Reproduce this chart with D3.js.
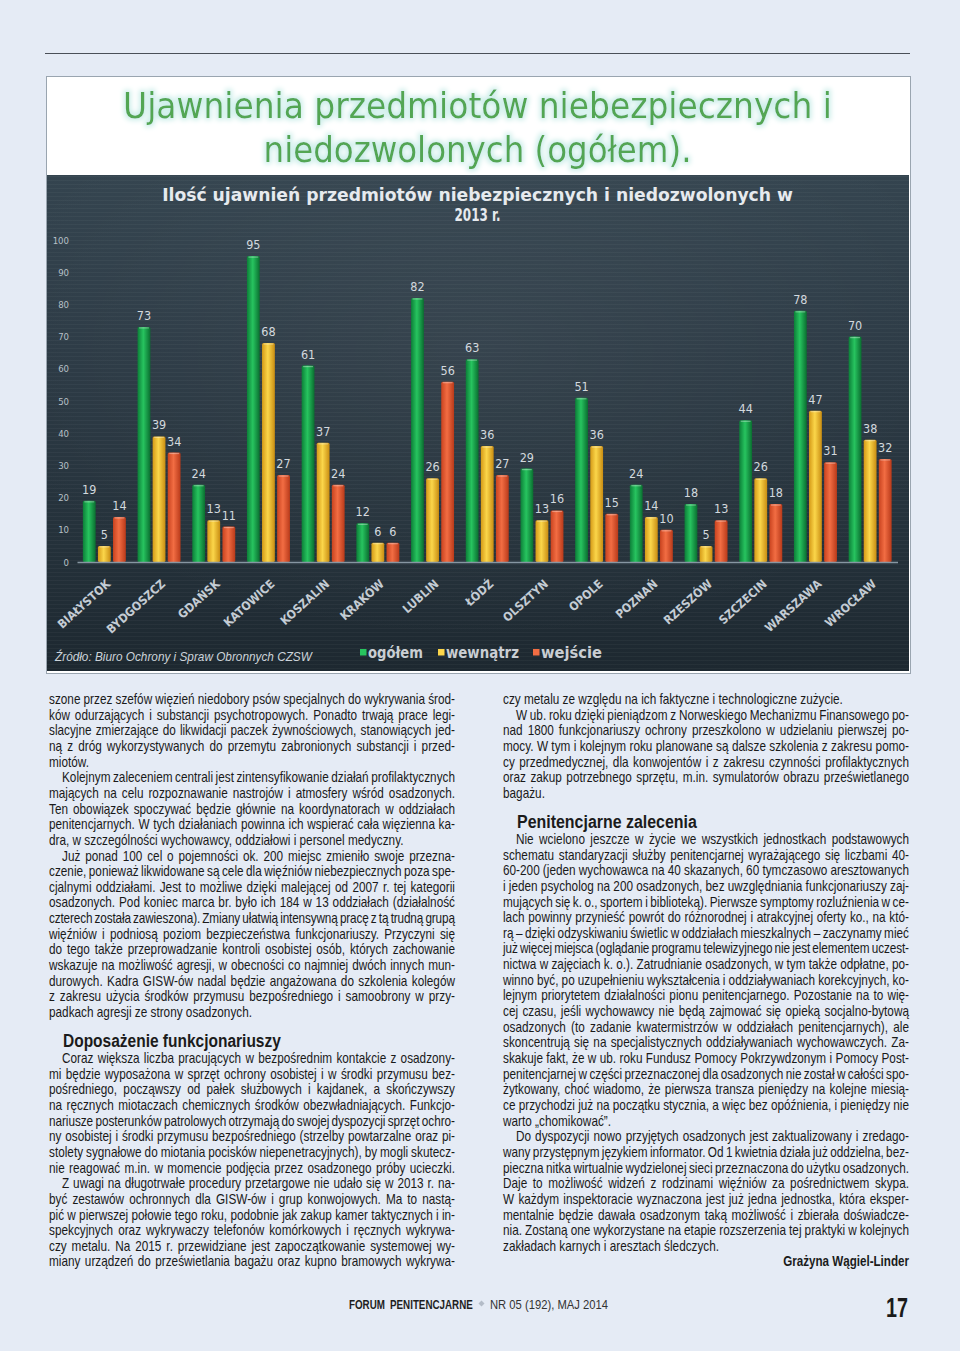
<!DOCTYPE html>
<html><head><meta charset="utf-8">
<script src="https://cdn.jsdelivr.net/npm/d3@7"></script>
<style>
html,body{margin:0;padding:0;background:#e5ebf5;}
svg{display:block;}
</style></head><body>
<svg id="page" width="960" height="1351"></svg>
<script>
// ---------- chart data ----------
const cities = ["BIAŁYSTOK","BYDGOSZCZ","GDAŃSK","KATOWICE","KOSZALIN","KRAKÓW","LUBLIN","ŁÓDŹ","OLSZTYN","OPOLE","POZNAŃ","RZESZÓW","SZCZECIN","WARSZAWA","WROCŁAW"];
const ogolem   = [19,73,24,95,61,12,82,63,29,51,24,18,44,78,70];
const wewnatrz = [5,39,13,68,37,6,26,36,13,36,14,5,26,47,38];
const wejscie  = [14,34,11,27,24,6,56,27,16,15,10,13,18,31,32];
const seriesNames = ["ogółem","wewnątrz","wejście"];
const yTicks = [0,10,20,30,40,50,60,70,80,90,100];
const chartTitle = ["Ujawnienia przedmiotów niebezpiecznych i","niedozwolonych (ogółem)."];
const chartSubtitle = ["Ilość ujawnień przedmiotów niebezpiecznych i niedozwolonych w","2013 r."];
const sourceNote = "Źródło: Biuro Ochrony i Spraw Obronnych CZSW";

// ---------- article text (">" = indent, "~" = ragged last line, "#" = heading) ----------
const leftColumn = [
"szone przez szefów więzień niedobory psów specjalnych do wykrywania środ-",
"ków odurzających i substancji psychotropowych. Ponadto trwają prace legi-",
"slacyjne zmierzające do likwidacji paczek żywnościowych, stanowiących jed-",
"ną z dróg wykorzystywanych do przemytu zabronionych substancji i przed-",
"miotów.~",
">Kolejnym zaleceniem centrali jest zintensyfikowanie działań profilaktycznych",
"mających na celu rozpoznawanie nastrojów i atmosfery wśród osadzonych.",
"Ten obowiązek spoczywać będzie głównie na koordynatorach w oddziałach",
"penitencjarnych. W tych działaniach powinna ich wspierać cała więzienna ka-",
"dra, w szczególności wychowawcy, oddziałowi i personel medyczny.~",
">Już ponad 100 cel o pojemności ok. 200 miejsc zmieniło swoje przezna-",
"czenie, ponieważ likwidowane są cele dla więźniów niebezpiecznych poza spe-",
"cjalnymi oddziałami. Jest to możliwe dzięki malejącej od 2007 r. tej kategorii",
"osadzonych. Pod koniec marca br. było ich 184 w 13 oddziałach (działalność",
"czterech została zawieszona). Zmiany ułatwią intensywną pracę z tą trudną grupą",
"więźniów i podniosą poziom bezpieczeństwa funkcjonariuszy. Przyczyni się",
"do tego także przeprowadzanie kontroli osobistej osób, których zachowanie",
"wskazuje na możliwość agresji, w obecności co najmniej dwóch innych mun-",
"durowych. Kadra GISW-ów nadal będzie angażowana do szkolenia kolegów",
"z zakresu użycia środków przymusu bezpośredniego i samoobrony w przy-",
"padkach agresji ze strony osadzonych.~",
"#Doposażenie funkcjonariuszy",
">Coraz większa liczba pracujących w bezpośrednim kontakcie z osadzony-",
"mi będzie wyposażona w sprzęt ochrony osobistej i w środki przymusu bez-",
"pośredniego, począwszy od pałek służbowych i kajdanek, a skończywszy",
"na ręcznych miotaczach chemicznych środków obezwładniających. Funkcjo-",
"nariusze posterunków patrolowych otrzymają do swojej dyspozycji sprzęt ochro-",
"ny osobistej i środki przymusu bezpośredniego (strzelby powtarzalne oraz pi-",
"stolety sygnałowe do miotania pocisków niepenetracyjnych), by mogli skutecz-",
"nie reagować m.in. w momencie podjęcia przez osadzonego próby ucieczki.",
">Z uwagi na długotrwałe procedury przetargowe nie udało się w 2013 r. na-",
"być zestawów ochronnych dla GISW-ów i grup konwojowych. Ma to nastą-",
"pić w pierwszej połowie tego roku, podobnie jak zakup kamer taktycznych i in-",
"spekcyjnych oraz wykrywaczy telefonów komórkowych i ręcznych wykrywa-",
"czy metalu. Na 2015 r. przewidziane jest zapoczątkowanie systemowej wy-",
"miany urządzeń do prześwietlania bagażu oraz kupno bramowych wykrywa-"
];
const rightColumn = [
"czy metalu ze względu na ich faktyczne i technologiczne zużycie.~",
">W ub. roku dzięki pieniądzom z Norweskiego Mechanizmu Finansowego po-",
"nad 1800 funkcjonariuszy ochrony przeszkolono w udzielaniu pierwszej po-",
"mocy. W tym i kolejnym roku planowane są dalsze szkolenia z zakresu pomo-",
"cy przedmedycznej, dla konwojentów i z zakresu czynności profilaktycznych",
"oraz zakup potrzebnego sprzętu, m.in. symulatorów obrazu prześwietlanego",
"bagażu.~",
"#Penitencjarne zalecenia",
">Nie wcielono jeszcze w życie we wszystkich jednostkach podstawowych",
"schematu standaryzacji służby penitencjarnej wyrażającego się liczbami 40-",
"60-200 (jeden wychowawca na 40 skazanych, 60 tymczasowo aresztowanych",
"i jeden psycholog na 200 osadzonych, bez uwzględniania funkcjonariuszy zaj-",
"mujących się k. o., sportem i biblioteką). Pierwsze symptomy rozluźnienia w ce-",
"lach powinny przynieść powrót do różnorodnej i atrakcyjnej oferty ko., na któ-",
"rą – dzięki odzyskiwaniu świetlic w oddziałach mieszkalnych – zaczynamy mieć",
"już więcej miejsca (oglądanie programu telewizyjnego nie jest elementem uczest-",
"nictwa w zajęciach k. o.). Zatrudnianie osadzonych, w tym także odpłatne, po-",
"winno być, po uzupełnieniu wykształcenia i oddziaływaniach korekcyjnych, ko-",
"lejnym priorytetem działalności pionu penitencjarnego. Pozostanie na to wię-",
"cej czasu, jeśli wychowawcy nie będą zajmować się opieką socjalno-bytową",
"osadzonych (to zadanie kwatermistrzów w oddziałach penitencjarnych), ale",
"skoncentrują się na specjalistycznych oddziaływaniach wychowawczych. Za-",
"skakuje fakt, że w ub. roku Fundusz Pomocy Pokrzywdzonym i Pomocy Post-",
"penitencjarnej w części przeznaczonej dla osadzonych nie został w całości spo-",
"żytkowany, choć wiadomo, że pierwsza transza pieniędzy na kolejne miesią-",
"ce przychodzi już na początku stycznia, a więc bez opóźnienia, i pieniędzy nie",
"warto „chomikować”.~",
">Do dyspozycji nowo przyjętych osadzonych jest zaktualizowany i zredago-",
"wany przystępnym językiem informator. Od 1 kwietnia działa już oddzielna, bez-",
"pieczna nitka wirtualnie wydzielonej sieci przeznaczona do użytku osadzonych.",
"Daje to możliwość widzeń z rodzinami więźniów za pośrednictwem skypa.",
"W każdym inspektoracie wyznaczona jest już jedna jednostka, która eksper-",
"mentalnie będzie dawała osadzonym taką możliwość i zbierała doświadcze-",
"nia. Zostaną one wykorzystane na etapie rozszerzenia tej praktyki w kolejnych",
"zakładach karnych i aresztach śledczych.~"
];
const signature = "Grażyna Wągiel-Linder";
const footerParts = ["FORUM PENITENCJARNE","NR 05 (192), MAJ 2014","17"];

// ---------- drawing ----------
const svg = d3.select("#page");
const defs = svg.append("defs");
const COND = "'DejaVu Sans Condensed','DejaVu Sans',sans-serif";
const NARROW = "'Liberation Sans Narrow','Arial Narrow','Liberation Sans',sans-serif";

// place a text so that its drawn width equals w (horizontal scale, like a condensed face)
function fitText(parent, str, x, y, w, opts){
  const el = parent.append("text").attr("x",0).attr("y",0).text(str);
  Object.entries(opts||{}).forEach(([k,v])=>el.attr(k,v));
  const nat = el.node().getComputedTextLength();
  const sx = w/nat;
  el.attr("transform",`translate(${x},${y}) scale(${sx.toFixed(4)},1)`);
  return el;
}

svg.append("rect").attr("width",960).attr("height",1351).attr("fill","#e5ebf5");
svg.append("line").attr("x1",45).attr("x2",910).attr("y1",53.5).attr("y2",53.5)
  .attr("stroke","#4a4f57").attr("stroke-width",1);

// chart box
const bg = defs.append("linearGradient").attr("id","darkbg").attr("x1",0).attr("x2",0).attr("y1",0).attr("y2",1);
[[0,"#34444f"],[0.35,"#2c3a45"],[0.75,"#24313a"],[1,"#1d2830"]].forEach(s=>bg.append("stop").attr("offset",s[0]).attr("stop-color",s[1]));
const rg = defs.append("radialGradient").attr("id","glowbg").attr("cx",0.5).attr("cy",0.35).attr("r",0.6);
rg.append("stop").attr("offset",0).attr("stop-color","#ffffff").attr("stop-opacity",0.05);
rg.append("stop").attr("offset",1).attr("stop-color","#ffffff").attr("stop-opacity",0);
const pat = defs.append("pattern").attr("id","stripes").attr("width",4).attr("height",4).attr("patternUnits","userSpaceOnUse");
pat.append("rect").attr("width",4).attr("height",1).attr("fill","#ffffff").attr("opacity",0.035);

svg.append("rect").attr("x",46.5).attr("y",76.5).attr("width",864).attr("height",597)
  .attr("fill","#ffffff").attr("stroke","#9aa5b0").attr("stroke-width",1);
svg.append("rect").attr("x",47).attr("y",175).attr("width",862).attr("height",496).attr("fill","url(#darkbg)");
svg.append("rect").attr("x",47).attr("y",175).attr("width",862).attr("height",496).attr("fill","url(#glowbg)");
svg.append("rect").attr("x",47).attr("y",175).attr("width",862).attr("height",496).attr("fill","url(#stripes)");

// title with glow
const glow = defs.append("filter").attr("id","glow").attr("x","-10%").attr("y","-30%").attr("width","120%").attr("height","160%");
glow.append("feMorphology").attr("in","SourceAlpha").attr("operator","dilate").attr("radius",2).attr("result","d");
glow.append("feGaussianBlur").attr("in","d").attr("stdDeviation",2.5).attr("result","b");
glow.append("feFlood").attr("flood-color","#cdeeea").attr("result","c");
glow.append("feComposite").attr("in","c").attr("in2","b").attr("operator","in").attr("result","g");
const fm = glow.append("feMerge"); fm.append("feMergeNode").attr("in","g"); fm.append("feMergeNode").attr("in","SourceGraphic");

const titleW = [709, 428], titleY = [118, 162];
chartTitle.forEach((t,i)=>fitText(svg, t, 477.5, titleY[i], titleW[i],
  {"text-anchor":"middle","font-family":COND,"font-size":36,"fill":"#52a653","filter":"url(#glow)"}));
const subW = [631, 46], subY = [201, 221];
chartSubtitle.forEach((t,i)=>fitText(svg, t, 477.5, subY[i], subW[i],
  {"text-anchor":"middle","font-family":COND,"font-weight":"bold","font-size":17,"fill":"#e6eaee"}));

// scales
const y = d3.scaleLinear().domain([0,100]).range([562,240]);
const x0 = d3.scaleBand().domain(cities).range([77,897.5]).paddingInner(0.214).paddingOuter(0.107);
const x1 = d3.scaleBand().domain(seriesNames).range([0,x0.bandwidth()]).paddingInner(0.15);
const seriesData = [ogolem, wewnatrz, wejscie];
const colors = {
  "ogółem":  ["#0c7f38","#27c45f","#0a6e30"],
  "wewnątrz":["#d59a17","#fbd64a","#c98d12"],
  "wejście": ["#c9431f","#f26d43","#b93a1a"]
};
seriesNames.forEach((s,i)=>{
  const g = defs.append("linearGradient").attr("id","grad"+i).attr("x1",0).attr("x2",1).attr("y1",0).attr("y2",0);
  g.append("stop").attr("offset",0).attr("stop-color",colors[s][0]);
  g.append("stop").attr("offset",0.45).attr("stop-color",colors[s][1]);
  g.append("stop").attr("offset",1).attr("stop-color",colors[s][2]);
});

// y axis
const yAxis = svg.append("g").attr("transform","translate(69,0)")
  .call(d3.axisLeft(y).tickValues(yTicks).tickSize(0).tickPadding(0));
yAxis.select(".domain").remove();
yAxis.selectAll("text").attr("font-family",COND).attr("font-size",9.5).attr("fill","#b7c0c8");

// bars
const rows = cities.map((c,ci)=>({city:c, vals:seriesNames.map((s,si)=>({s, si, v:seriesData[si][ci]}))}));
const grp = svg.append("g").selectAll("g").data(rows).join("g")
  .attr("transform",d=>`translate(${x0(d.city)},0)`);
grp.selectAll("rect").data(d=>d.vals).join("rect")
  .attr("x",d=>x1(d.s)).attr("width",x1.bandwidth())
  .attr("y",d=>y(d.v)).attr("height",d=>y(0)-y(d.v))
  .attr("rx",1.5).attr("fill",d=>"url(#grad"+d.si+")");
grp.selectAll("line.cap").data(d=>d.vals).join("line").attr("class","cap")
  .attr("x1",d=>x1(d.s)+1.5).attr("x2",d=>x1(d.s)+x1.bandwidth()-1.5)
  .attr("y1",d=>y(d.v)+1).attr("y2",d=>y(d.v)+1)
  .attr("stroke","#ffffff").attr("stroke-opacity",0.35).attr("stroke-width",1.2);
grp.selectAll("text").data(d=>d.vals).join("text")
  .attr("x",d=>x1(d.s)+x1.bandwidth()/2).attr("y",d=>y(d.v)-7)
  .attr("text-anchor","middle").attr("font-family",COND).attr("font-size",12.5)
  .attr("fill","#d3d9de").text(d=>d.v);

// x axis
const xAxis = svg.append("g").attr("transform","translate(0,562)")
  .call(d3.axisBottom(x0).tickSize(0));
xAxis.select(".domain").attr("stroke","#8796a2").attr("stroke-width",1.5);
xAxis.selectAll("text").attr("x",0).attr("y",0).attr("dy",0)
  .attr("transform","translate(7,23) rotate(-42)").attr("text-anchor","end")
  .attr("font-family",COND).attr("font-weight","bold").attr("font-size",12)
  .attr("fill","#c4ccd4");

// source + legend
fitText(svg, sourceNote, 55, 661, 257, {"font-family":NARROW,"font-style":"italic","font-size":13,"fill":"#cdd4da"});
const legX = [360, 438, 533], legW = [55, 73, 61];
const leg = svg.append("g").selectAll("g").data(seriesNames).join("g")
  .attr("transform",(d,i)=>`translate(${legX[i]},0)`);
leg.append("rect").attr("x",0).attr("y",649).attr("width",6.5).attr("height",6.5)
  .attr("fill",(d,i)=>colors[d][1]);
leg.each(function(d,i){
  fitText(d3.select(this), d, 8, 658, legW[i], {"font-family":COND,"font-weight":"bold","font-size":15,"fill":"#c9ced3"});
});

// ---------- article columns ----------
const LH = 15.65;
const BODY_SIZE = 13.8;
const bodyLines = [];
function drawColumn(lines, x0c, width, yStart){
  const g = svg.append("g");
  let yc = yStart;
  lines.forEach(raw=>{
    if(raw.startsWith("#")){
      const hy = yc - LH + 29;
      const t = raw.slice(1);
      const hw = t.startsWith("Dopo") ? 218 : 180;
      fitText(g, t, x0c+14, hy+6, hw, {"font-family":NARROW,"font-weight":"bold","font-size":19,"fill":"#1b1b1b"});
      yc = hy + 17;
      return;
    }
    let t = raw, indent = 0, ragged = false;
    if(t.startsWith(">")){ indent = 13; t = t.slice(1); }
    if(t.endsWith("~")){ ragged = true; t = t.slice(0,-1); }
    const el = g.append("text").attr("x",0).attr("y",0)
      .attr("font-family",NARROW).attr("font-size",BODY_SIZE).attr("fill","#1a1a1a").text(t);
    bodyLines.push({el, t, ragged, x:x0c+indent, y:yc+5, target:width-indent,
                    nat: el.node().getComputedTextLength()});
    yc += LH;
  });
}
drawColumn(leftColumn, 49, 406, 699);
drawColumn(rightColumn, 503, 406, 699);
// common horizontal condensing factor from the justified lines (without extra word spacing)
const rs = bodyLines.filter(b=>!b.ragged).map(b=>b.target/b.nat).sort((a,b)=>a-b);
const SX = Math.min(1, rs[Math.floor(rs.length*0.3)]);
bodyLines.forEach(b=>{
  b.el.attr("transform",`translate(${b.x},${b.y}) scale(${SX.toFixed(4)},1)`);
  if(!b.ragged){
    const spaces = (b.t.match(/ /g)||[]).length;
    const extra = b.target/SX - b.nat;
    let ws = spaces ? extra/spaces : 0;
    if(ws < -1){
      const rest = extra + spaces;
      b.el.attr("letter-spacing",(rest/(b.t.length-1)).toFixed(3));
      ws = -1;
    }
    b.el.attr("word-spacing",ws.toFixed(3));
  }
});

// signature
fitText(svg, signature, 909, 1265.5, 126, {"text-anchor":"end","font-family":NARROW,"font-weight":"bold","font-size":14.5,"fill":"#1b1b1b"});

// footer
fitText(svg, footerParts[0], 349, 1308.5, 124, {"font-family":NARROW,"font-weight":"bold","font-size":12.5,"fill":"#1e1e1e","word-spacing":3});
svg.append("path").attr("d","M481.5,1300.5 l3,3 l-3,3 l-3,-3 z").attr("fill","#b4bcc8");
fitText(svg, footerParts[1], 490, 1308.5, 118, {"font-family":NARROW,"font-size":12.5,"fill":"#333"});
fitText(svg, footerParts[2], 908, 1317, 22, {"text-anchor":"end","font-family":NARROW,"font-weight":"bold","font-size":27,"fill":"#1a1a1a"});
</script>
</body></html>
